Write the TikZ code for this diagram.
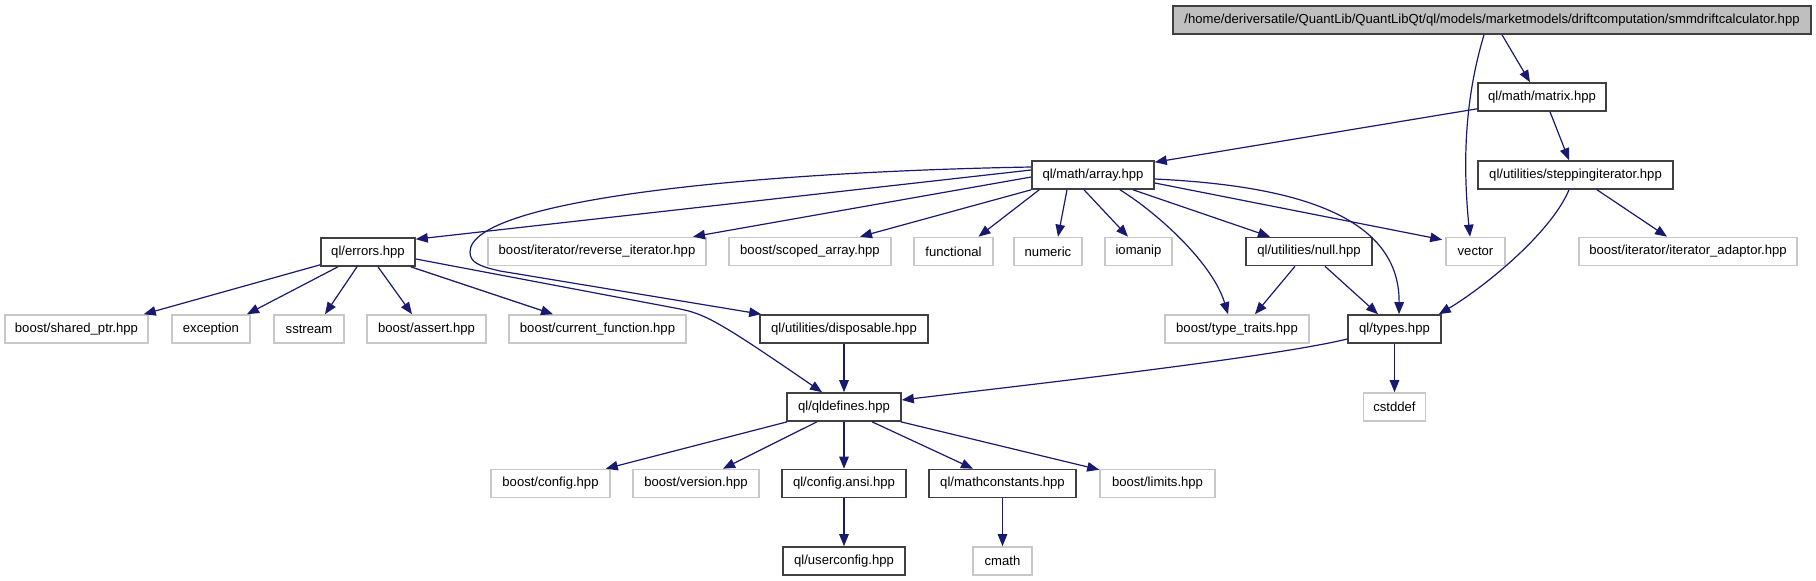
\documentclass[tikz,border=0pt]{standalone}
\usepackage{fontspec}
\setmainfont{Liberation Sans}
\usetikzlibrary{arrows.meta}
\definecolor{edgec}{HTML}{191970}
\definecolor{nodegray}{HTML}{BFBFBF}
\definecolor{extgray}{HTML}{C8C8C8}
\definecolor{bdark}{HTML}{404040}
\tikzset{
 box/.style={draw=bdark, line width=1.6pt, rectangle, inner sep=0pt, minimum height=28pt, fill=white, font=\fontsize{13.1}{15}\selectfont},
 ext/.style={box, draw=extgray},
 topbox/.style={box, fill=nodegray},
 edge/.style={draw=edgec, line width=1.2pt, -{Triangle[length=12pt,width=9.5pt]}},
}
\begin{document}
\begin{tikzpicture}[x=1pt,y=-1pt]
\useasboundingbox (0,0) rectangle (1816,581);
% rank 0-2
\node[topbox, minimum width=638pt] (top) at (1492,20) {/home/deriversatile/QuantLib/QuantLibQt/ql/models/marketmodels/driftcomputation/smmdriftcalculator.hpp};
\node[box, minimum width=128pt] (matrix) at (1542,97) {ql/math/matrix.hpp};
\node[box, minimum width=122pt] (array) at (1093,175) {ql/math/array.hpp};
\node[box, minimum width=195pt] (step) at (1575.5,175) {ql/utilities/steppingiterator.hpp};
% rank 3
\node[box, minimum width=94pt] (errors) at (368,252) {ql/errors.hpp};
\node[ext, minimum width=218pt] (rev) at (597,251.5) {boost/iterator/reverse\_iterator.hpp};
\node[ext, minimum width=162pt] (scoped) at (810,251.5) {boost/scoped\_array.hpp};
\node[ext, minimum width=79pt] (functional) at (953.5,251.5) {functional};
\node[ext, minimum width=68pt] (numeric) at (1048,251.5) {numeric};
\node[ext, minimum width=67pt] (iomanip) at (1138.5,251.5) {iomanip};
\node[box, minimum width=126pt] (null) at (1309,251.5) {ql/utilities/null.hpp};
\node[ext, minimum width=59pt] (vector) at (1475.5,251.5) {vector};
\node[ext, minimum width=218pt] (itadapt) at (1688,251.5) {boost/iterator/iterator\_adaptor.hpp};
% rank 4
\node[ext, minimum width=143pt] (shared) at (76.5,329) {boost/shared\_ptr.hpp};
\node[ext, minimum width=78pt] (exception) at (211,329) {exception};
\node[ext, minimum width=70pt] (sstream) at (309,329) {sstream};
\node[ext, minimum width=119pt] (assert) at (426.5,329) {boost/assert.hpp};
\node[ext, minimum width=177pt] (curfun) at (597.5,329) {boost/current\_function.hpp};
\node[box, minimum width=168pt] (disposable) at (844,329) {ql/utilities/disposable.hpp};
\node[ext, minimum width=144pt] (typetraits) at (1237,329) {boost/type\_traits.hpp};
\node[box, minimum width=93pt] (types) at (1394.5,329) {ql/types.hpp};
% rank 5
\node[box, minimum width=114pt] (qldefines) at (844,407) {ql/qldefines.hpp};
\node[ext, minimum width=62pt] (cstddef) at (1394.5,407) {cstddef};
% rank 6
\node[ext, minimum width=119pt] (config) at (550.5,483.5) {boost/config.hpp};
\node[ext, minimum width=126pt] (version) at (696,483.5) {boost/version.hpp};
\node[box, minimum width=124pt] (configansi) at (844,483.5) {ql/config.ansi.hpp};
\node[box, minimum width=147pt] (mathconst) at (1002.5,483.5) {ql/mathconstants.hpp};
\node[ext, minimum width=115pt] (limits) at (1157.5,483.5) {boost/limits.hpp};
% rank 7
\node[box, minimum width=122pt] (userconfig) at (844,561) {ql/userconfig.hpp};
\node[ext, minimum width=59pt] (cmath) at (1002.5,561) {cmath};

% edges
\draw[edge] ([shift={(10,0)}]top.south) -- ([shift={(-12,0)}]matrix.north);
\draw[edge] ([shift={(-8,0)}]top.south) .. controls +(-18,60) and +(-8,-80) .. ([shift={(-5.5,0)}]vector.north);
\draw[edge] ([shift={(0,-3)}]matrix.south west) -- ([shift={(0,2)}]array.north east);
\draw[edge] ([shift={(8,0)}]matrix.south) -- ([shift={(-6.5,0)}]step.north);

\draw[edge] ([shift={(0,-5)}]array.west) -- ([shift={(0,2)}]errors.north east);
\draw[edge] ([shift={(0,-8)}]array.west) .. controls (750,172) and (470,200) .. (470,252) .. controls (470,262) and (478,266) .. (500,271) -- ([shift={(2,0)}]disposable.north west);
\draw[edge] ([shift={(0,2)}]array.west) -- ([shift={(96,0)}]rev.north);
\draw[edge] (array.south west) -- ([shift={(50,0)}]scoped.north);
\draw[edge] ([shift={(8,0)}]array.south west) -- ([shift={(25,0)}]functional.north);
\draw[edge] ([shift={(-26,0)}]array.south) -- ([shift={(10,0)}]numeric.north);
\draw[edge] ([shift={(-9,0)}]array.south) -- ([shift={(-10.5,0)}]iomanip.north);
\draw[edge] ([shift={(27,0)}]array.south) .. controls +(40,25) and +(-15,-50) .. ([shift={(-9,0)}]typetraits.north);
\draw[edge] ([shift={(40,0)}]array.south) -- ([shift={(-39,0)}]null.north);
\draw[edge] ([shift={(0,8)}]array.east) -- ([shift={(-3,3)}]vector.north west);
\draw[edge] ([shift={(0,4)}]array.east) .. controls (1280,185) and (1400,210) .. ([shift={(4.5,0)}]types.north);

\draw[edge] ([shift={(21.5,0)}]step.south) -- ([shift={(-21,0)}]itadapt.north);
\draw[edge] ([shift={(-6.5,0)}]step.south) .. controls (1550,235) and (1480,290) .. ([shift={(-3,0)}]types.north east);
\draw[edge] ([shift={(-14,0)}]null.south) -- ([shift={(18,0)}]typetraits.north);
\draw[edge] ([shift={(16,0)}]null.south) -- ([shift={(-16.5,0)}]types.north);
\draw[edge] ([shift={(0,10)}]types.west) .. controls (1270,358) and (1000,388) .. ([shift={(0,-7)}]qldefines.east);
\draw[edge] (types) -- (cstddef);

\draw[edge] ([shift={(0,-2)}]errors.south west) -- ([shift={(-5,0)}]shared.north east);
\draw[edge] ([shift={(-30,0)}]errors.south) -- ([shift={(36,0)}]exception.north);
\draw[edge] ([shift={(-11,0)}]errors.south) -- ([shift={(16,0)}]sstream.north);
\draw[edge] ([shift={(10,0)}]errors.south) -- ([shift={(-14.5,0)}]assert.north);
\draw[edge] ([shift={(-5,0)}]errors.south east) -- ([shift={(-44.5,0)}]curfun.north);
\draw[edge] ([shift={(0,7)}]errors.east) -- (680,309) .. controls (705,314) and (720,322) .. ([shift={(-22,0)}]qldefines.north);
\draw[edge] (disposable) -- (qldefines);

\draw[edge] ([shift={(1,0)}]qldefines.south west) -- ([shift={(-5,0)}]config.north east);
\draw[edge] ([shift={(-27,0)}]qldefines.south) -- ([shift={(27,0)}]version.north);
\draw[edge] (qldefines) -- (configansi);
\draw[edge] ([shift={(28,0)}]qldefines.south) -- ([shift={(-29.5,0)}]mathconst.north);
\draw[edge] ([shift={(-1,0)}]qldefines.south east) -- ([shift={(0,1)}]limits.north west);
\draw[edge] (configansi) -- (userconfig);
\draw[edge] (mathconst) -- (cmath);
\end{tikzpicture}
\end{document}
